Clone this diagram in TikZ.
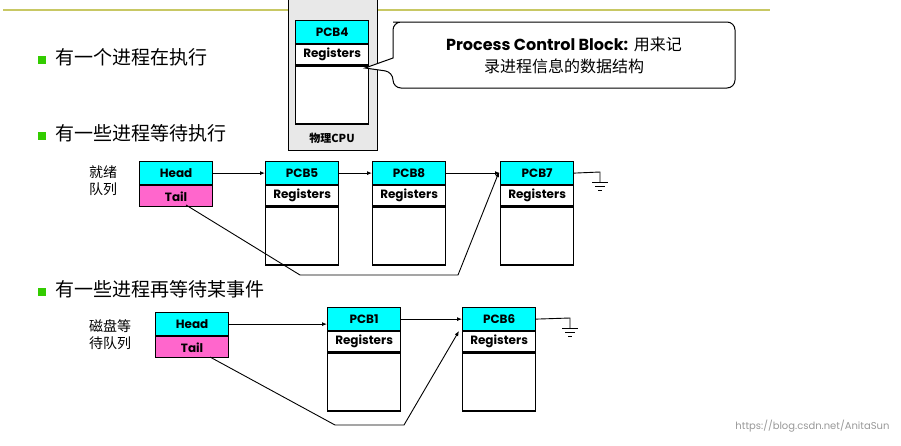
\documentclass[tikz,border=0pt]{standalone}
\usepackage{fontspec}
\setmainfont{Poppins}
\newfontfamily\cjk{Noto Sans CJK SC}
\usetikzlibrary{arrows.meta,calc}
\definecolor{hd}{HTML}{00FFFF}
\definecolor{tl}{HTML}{FF66CC}
\definecolor{olv}{HTML}{C8C864}
\definecolor{bul}{HTML}{33CC00}
\begin{document}
\begin{tikzpicture}[x=1pt,y=-1pt,
 box/.style={draw,line width=1.2pt,minimum width=#1,inner sep=0pt},
 head/.style={box=73pt,fill=hd,minimum height=23pt,font=\bfseries\fontsize{12}{12}\selectfont},
 tail/.style={box=73pt,fill=tl,minimum height=21pt,font=\bfseries\fontsize{12}{12}\selectfont},
 reg/.style={box=73pt,fill=white,minimum height=20pt,font=\bfseries\fontsize{12}{12}\selectfont},
 bodyb/.style={box=73pt,fill=white,minimum height=#1},
 lab/.style={font=\cjk\fontsize{14}{17}\selectfont,align=center},
 bt/.style={font=\cjk\fontsize{19}{19}\selectfont,anchor=west},
 arr/.style={-{Latex[length=5pt,width=4pt]},line width=0.9pt},
 ln/.style={line width=0.9pt}]
\useasboundingbox (0,0) rectangle (901,445);
\fill[white] (0,0) rectangle (901,445);
\draw[olv,line width=2.5pt] (3,10) -- (770,10);
% CPU
\node[draw,line width=1.2pt,fill=black!9,minimum width=89pt,minimum height=155pt,anchor=north west,inner sep=0pt] (cpu) at (288,-5) {};
\node[font=\cjk\bfseries\fontsize{11}{11}\selectfont] (cpul) at (332,138) {物理CPU};
\node[head,anchor=north west] (p4) at (295,20) {PCB4};
\node[reg,anchor=north] (p4r) at (p4.south) {Registers};
\node[bodyb=58pt,anchor=north] (p4b) at (p4r.south) {};
% callout
\draw[line width=1pt,rounded corners=8pt,fill=white] (393,22) -- (735,22) -- (735,88) -- (393,88) -- (393,72) [sharp corners] -- (365,68) -- (393,58) [rounded corners=8pt] -- (393,22) -- (400,22);
\node[font=\fontsize{16}{22}\selectfont,align=center] (call) at (564,55) {\textbf{Process Control Block:} {\cjk 用来记}\\{\cjk 录进程信息的数据结构}};
% bullets
\fill[bul] (38,56) rectangle (46,64);
\node[bt] (b1) at (52,57) {有一个进程在执行};
\fill[bul] (38,132) rectangle (46,140);
\node[bt] (b2) at (52,133) {有一些进程等待执行};
\fill[bul] (38,288) rectangle (46,296);
\node[bt] (b3) at (52,289) {有一些进程再等待某事件};
% ready queue
\node[lab] (rl) at (103,181) {就绪\\队列};
\node[head,anchor=north west] (rh) at (139,161) {Head};
\node[tail,anchor=north] (rt) at (rh.south) {Tail};
\foreach \n/\x in {5/265,8/372,7/500}{
 \node[head,anchor=north west] (p\n) at (\x,161) {PCB\n};
 \node[reg,anchor=north] (p\n r) at (p\n.south) {Registers};
 \node[bodyb=58pt,anchor=north] (p\n b) at (p\n r.south) {};
}
\draw[arr] (rh.east) -- (p5.west);
\draw[arr] (p5.east) -- (p8.west);
\draw[arr] (p8.east) -- (p7.west);
\coordinate (rt1) at (186,205);
\coordinate (rt2) at (300,275);
\coordinate (rt3) at (458,275);
\coordinate (rt4) at (499,172);
\draw[arr] (rt1) -- (rt2) -- (rt3) -- (rt4);
\coordinate (g1) at (600,182);
\draw[ln] (p7.east) -- (600,172) -- (g1);
\draw[ln] (592,182) -- (608,182) (595,186) -- (605,186) (598,190) -- (602,190);
% disk queue
\node[lab] (dl) at (110,335) {磁盘等\\待队列};
\node[head,anchor=north west] (dh) at (155,312) {Head};
\node[tail,anchor=north] (dt) at (dh.south) {Tail};
\foreach \n/\x in {1/327,6/462}{
 \node[head,anchor=north west] (p\n) at (\x,307) {PCB\n};
 \node[reg,anchor=north] (p\n r) at (p\n.south) {Registers};
 \node[bodyb=58pt,anchor=north] (p\n b) at (p\n r.south) {};
}
\draw[arr] (dh.east) -- (dh.east -| p1.west);
\draw[arr] (p1.east) -- (p6.west);
\coordinate (dt1) at (210,357);
\coordinate (dt2) at (335,425);
\coordinate (dt3) at (404,425);
\coordinate (dt4) at (459,331);
\draw[arr] (dt1) -- (dt2) -- (dt3) -- (dt4);
\coordinate (g2) at (570,328);
\draw[ln] (p6.east) -- (570,318) -- (g2);
\draw[ln] (562,328) -- (578,328) (565,332) -- (575,332) (568,336) -- (572,336);
\node[font=\fontsize{10}{10}\selectfont,text=black!40,anchor=east] (wm) at (893,426) {https://blog.csdn.net/AnitaSun};
\end{tikzpicture}
\end{document}
